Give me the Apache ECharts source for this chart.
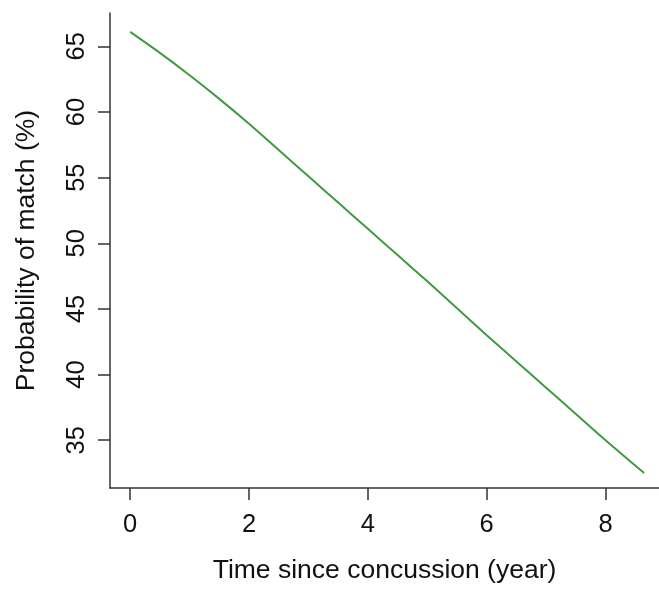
<!DOCTYPE html>
<html>
<head>
<meta charset="utf-8">
<script src="https://cdn.jsdelivr.net/npm/echarts@6/dist/echarts.min.js"></script>
<style>
  html, body { margin: 0; padding: 0; background: #fff; }
  #grafico { width: 659px; height: 589px; }
</style>
</head>
<body>
<div id="grafico"></div>
<script>
// valores
const anos = [0, 0.5, 1, 1.5, 2, 2.5, 3, 3.5, 4, 4.5, 5, 5.5, 6, 6.5, 7, 7.5, 8, 8.65];
const probabilidade = [66.1, 64.5, 62.8, 61.0, 59.1, 57.1, 55.1, 53.1, 51.1, 49.1, 47.1, 45.05, 43.0, 41.0, 39.0, 37.0, 35.0, 32.5];
const ticksX = [0, 2, 4, 6, 8];
const ticksY = [35, 40, 45, 50, 55, 60, 65];

const fonte = '"Liberation Sans", Arial, sans-serif';
const corEixo = '#333';

const grafico = echarts.init(document.getElementById('grafico'));

const option = {
    animation: false,
    grid: { left: 110, right: 0, top: 13, bottom: 100 },
    xAxis: {
        type: 'value',
        min: -0.34,
        max: 8.9,
        name: 'Time since concussion (year)',
        nameLocation: 'middle',
        nameGap: 69,
        nameTextStyle: { fontFamily: fonte, fontSize: 26.5, color: '#111' },
        axisLine: { show: true, onZero: false, lineStyle: { color: corEixo, width: 1.5 } },
        axisTick: { show: true, inside: false, length: 12, customValues: ticksX, lineStyle: { color: corEixo, width: 1.5 } },
        axisLabel: { customValues: ticksX, margin: 24, fontFamily: fonte, fontSize: 25.5, color: '#111' },
        splitLine: { show: false }
    },
    yAxis: {
        type: 'value',
        min: 31.36,
        max: 67.54,
        name: 'Probability of match (%)',
        nameLocation: 'middle',
        nameGap: 70,
        nameTextStyle: { fontFamily: fonte, fontSize: 26.5, color: '#111' },
        axisLine: { show: true, onZero: false, lineStyle: { color: corEixo, width: 1.5 } },
        axisTick: { show: true, inside: false, length: 12, customValues: ticksY, lineStyle: { color: corEixo, width: 1.5 } },
        axisLabel: { customValues: ticksY, rotate: 90, margin: 20, fontFamily: fonte, fontSize: 25.5, color: '#111' },
        splitLine: { show: false }
    },
    series: [{
        type: 'line',
        data: anos.map((a, i) => [a, probabilidade[i]]),
        smooth: 0.3,
        symbol: 'none',
        lineStyle: { color: '#3f9b3f', width: 2 }
    }]
};

grafico.setOption(option);
</script>
</body>
</html>
